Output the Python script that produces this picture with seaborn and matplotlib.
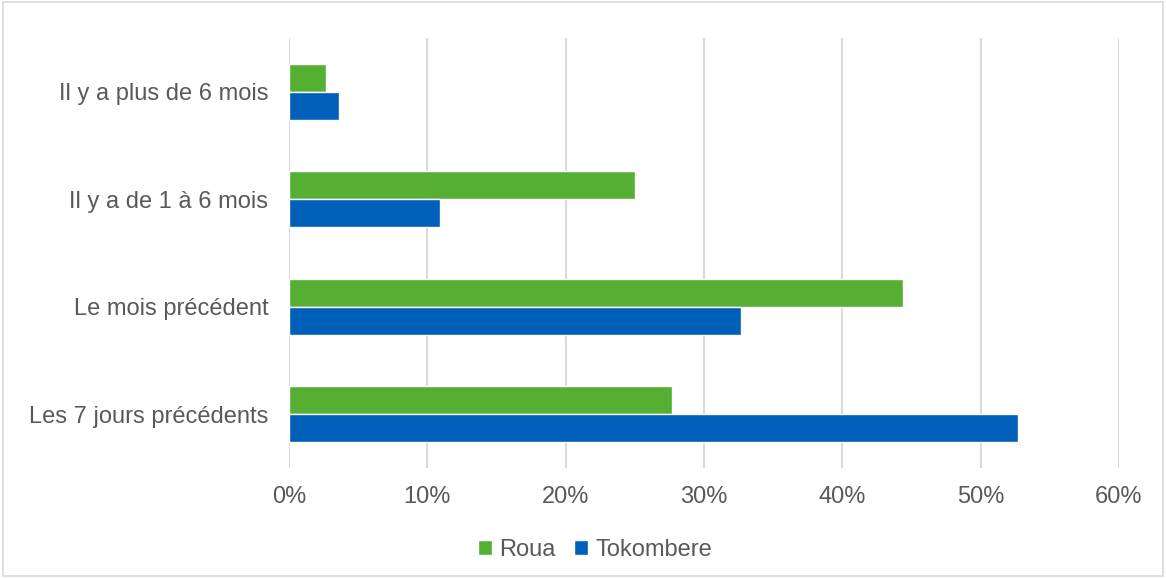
import matplotlib
matplotlib.use("Agg")
import matplotlib.pyplot as plt
import seaborn as sns
import pandas as pd
from matplotlib.patches import Rectangle
from matplotlib.ticker import FuncFormatter

categories = ["Il y a plus de 6 mois", "Il y a de 1 à 6 mois", "Le mois précédent", "Les 7 jours précédents"]
roua = [2.7, 25.0, 44.4, 27.7]
tokombere = [3.6, 10.9, 32.7, 52.7]
series = ["Roua", "Tokombere"]
xticks = [0, 10, 20, 30, 40, 50, 60]

df = pd.DataFrame({
    "cat": categories * 2,
    "val": roua + tokombere,
    "serie": [series[0]] * len(categories) + [series[1]] * len(categories),
})

sns.set_theme(style="white")
plt.rcParams["font.family"] = ["Liberation Sans", "DejaVu Sans"]
txt = "#595959"

fig = plt.figure(figsize=(11.66, 5.78), dpi=100)
ax = fig.add_axes([289/1166, 1-468/578, (1119-289)/1166, (468-38)/578])

sns.barplot(data=df, y="cat", x="val", hue="serie", order=categories, hue_order=series,
            palette=["#54AF33", "#005FB8"], width=0.52, ax=ax, saturation=1, orient="h")

ax.set_xlim(0, 60)
ax.set_ylim(3.5, -0.5)
ax.set_xticks(xticks)
ax.xaxis.set_major_formatter(FuncFormatter(lambda v, p: f"{int(v)}%"))
ax.grid(axis="x", color="#d9d9d9", linewidth=1.5)
ax.set_axisbelow(True)
for s in ax.spines.values():
    s.set_visible(False)
ax.tick_params(axis="both", length=0, labelsize=17, colors=txt)
ax.tick_params(axis="y", pad=15)
ax.tick_params(axis="x", pad=13)
ax.set_xlabel("")
ax.set_ylabel("")

leg = ax.legend(loc="center", ncol=2, frameon=False, fontsize=17, handlelength=0.6,
                handleheight=0.6, handletextpad=0.3, columnspacing=0.8)
for t in leg.get_texts():
    t.set_color(txt)
leg.set_bbox_to_anchor((595/1166, 1 - 550/578), transform=fig.transFigure)

fig.patches.append(Rectangle((0.003, 0.003), 0.994, 0.994, transform=fig.transFigure,
                             fill=False, edgecolor="#d9d9d9", linewidth=1.2))

fig.savefig("out.png", dpi=100)
